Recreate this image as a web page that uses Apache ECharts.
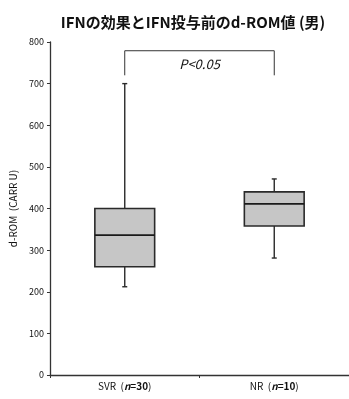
<!DOCTYPE html>
<html><head><meta charset="utf-8">
<script src="https://cdn.jsdelivr.net/npm/echarts@6/dist/echarts.min.js"></script>
<style>html,body{margin:0;padding:0;background:#fff}#c{width:349px;height:399px}</style>
</head><body><div id="c"></div>
<script>
const categories = ['SVR', 'NR'];
const categoryN = [30, 10];
// [low whisker, Q1, median, Q3, high whisker]
const boxValues = [
  [212, 260, 336, 400, 700],
  [281, 358, 411, 440, 471]
];
const yTicks = [0, 100, 200, 300, 400, 500, 600, 700, 800];
const bracketTop = 779;
const bracketBottom = 720;
const pLabel = 'P<0.05';

const FONT = '"Noto Sans CJK JP","Noto Sans",sans-serif';
const chart = echarts.init(document.getElementById('c'), null, {renderer: 'canvas'});

function renderBox(params, api) {
  const cat = api.value(0);
  const lo = api.coord([cat, api.value(1)]);
  const q1 = api.coord([cat, api.value(2)]);
  const med = api.coord([cat, api.value(3)]);
  const q3 = api.coord([cat, api.value(4)]);
  const hi = api.coord([cat, api.value(5)]);
  const band = api.size([1, 0])[0];
  const w = band * 0.40;
  const x = lo[0];
  const cap = 2.5;
  const stroke = {stroke: '#2a2a2a', lineWidth: 1.4};
  return {
    type: 'group',
    children: [
      {type: 'line', shape: {x1: x, y1: hi[1], x2: x, y2: q3[1]}, style: stroke},
      {type: 'line', shape: {x1: x, y1: q1[1], x2: x, y2: lo[1]}, style: stroke},
      {type: 'line', shape: {x1: x - cap, y1: hi[1], x2: x + cap, y2: hi[1]}, style: stroke},
      {type: 'line', shape: {x1: x - cap, y1: lo[1], x2: x + cap, y2: lo[1]}, style: stroke},
      {type: 'rect', shape: {x: x - w / 2, y: q3[1], width: w, height: q1[1] - q3[1]},
        style: {fill: '#c6c6c6', stroke: '#2a2a2a', lineWidth: 1.6}},
      {type: 'line', shape: {x1: x - w / 2, y1: med[1], x2: x + w / 2, y2: med[1]}, style: {stroke: '#1a1a1a', lineWidth: 1.6}}
    ]
  };
}

function renderBracket(params, api) {
  const a = api.coord([0, bracketTop]);
  const b = api.coord([1, bracketTop]);
  const aB = api.coord([0, bracketBottom]);
  const bB = api.coord([1, bracketBottom]);
  const st = {stroke: '#333', lineWidth: 1};
  return {
    type: 'group',
    children: [
      {type: 'polyline', shape: {points: [[aB[0], aB[1]], [a[0], a[1]], [b[0], b[1]], [bB[0], bB[1]]]}, style: Object.assign({fill: 'none'}, st)},
      {type: 'text', x: (a[0] + b[0]) / 2, y: (a[1] + aB[1]) / 2 + 1,
        style: {text: pLabel, fill: '#111', font: 'italic 13px ' + FONT, align: 'center', verticalAlign: 'middle'}}
    ]
  };
}

chart.setOption({
  animation: false,
  title: {
    text: 'IFNの効果とIFN投与前のd-ROM値 (男)',
    left: 188, top: 10, textAlign: 'center',
    textStyle: {fontFamily: FONT, fontWeight: 'bold', fontSize: 15, color: '#111'}
  },
  grid: {left: 47, right: 0, top: 42, bottom: 24},
  xAxis: {
    type: 'category',
    data: categories,
    boundaryGap: true,
    axisLine: {lineStyle: {color: '#333', width: 1.3}},
    axisTick: {show: true, length: 3, lineStyle: {color: '#333'}},
    axisLabel: {
      margin: 6,
      fontFamily: FONT, fontSize: 10, color: '#111',
      formatter: function (v, i) { return v + '  ({i|n}{b|=' + categoryN[i] + '})'; },
      rich: {
        i: {fontStyle: 'italic', fontWeight: 'bold', fontSize: 10, fontFamily: FONT, color: '#111'},
        b: {fontWeight: 'bold', fontSize: 10, fontFamily: FONT, color: '#111'}
      }
    }
  },
  yAxis: {
    type: 'value',
    min: yTicks[0], max: yTicks[yTicks.length - 1], interval: 100,
    name: 'd-ROM  (CARR U)',
    nameLocation: 'middle', nameGap: 32,
    nameTextStyle: {fontFamily: FONT, fontSize: 10, color: '#111'},
    axisLine: {show: true, lineStyle: {color: '#333', width: 1.3}},
    axisTick: {show: true, length: 3, lineStyle: {color: '#333'}},
    axisLabel: {margin: 6, fontFamily: FONT, fontSize: 9, color: '#111'},
    splitLine: {show: false}
  },
  series: [
    {
      type: 'custom',
      renderItem: renderBox,
      encode: {x: 0, y: [1, 2, 3, 4, 5]},
      data: boxValues.map((b, i) => [i].concat(b)),
      z: 2
    },
    {
      type: 'custom',
      renderItem: renderBracket,
      data: [[0, bracketTop]],
      z: 3
    }
  ]
});
</script></body></html>
